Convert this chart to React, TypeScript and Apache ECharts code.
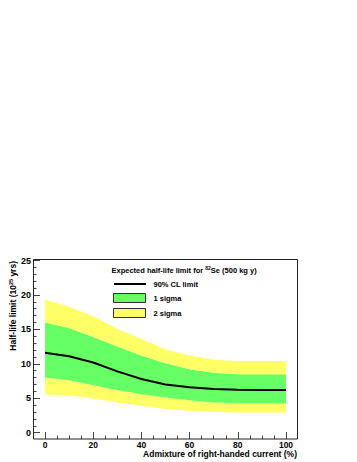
import React, { useEffect, useRef } from "react";
import * as echarts from "echarts";

const admixture = [0, 10, 20, 30, 40, 50, 60, 70, 80, 90, 100];
const limit90 = [11.6, 11.1, 10.2, 8.9, 7.8, 7.0, 6.6, 6.35, 6.25, 6.2, 6.2];
const sigma1Upper = [16.0, 15.2, 13.9, 12.5, 11.2, 10.1, 9.2, 8.7, 8.5, 8.5, 8.5];
const sigma1Lower = [8.0, 7.6, 6.9, 6.2, 5.6, 5.1, 4.7, 4.4, 4.3, 4.3, 4.3];
const sigma2Upper = [19.3, 18.3, 16.9, 15.1, 13.6, 12.1, 11.2, 10.6, 10.4, 10.4, 10.4];
const sigma2Lower = [5.6, 5.4, 4.95, 4.4, 3.9, 3.45, 3.2, 3.0, 2.95, 2.95, 2.95];
const xTicks = [0, 20, 40, 60, 80, 100];
const yTicks = [0, 5, 10, 15, 20, 25];

const FONT = "'Liberation Sans', Arial, sans-serif";
const GREEN = "#66ff66";
const YELLOW = "#ffff66";
const TICK = { color: "#444", width: 1 };

export default function App() {
  const ref = useRef<HTMLDivElement>(null);
  useEffect(() => {
    if (!ref.current) return;
    const chart = echarts.init(ref.current, undefined, { renderer: "svg" });
    const diff = (a: number[], b: number[]) => a.map((v, i) => +(v - b[i]).toFixed(3));
    const band = (name: string, data: number[], color: string | null) => ({
      name,
      type: "line",
      xAxisIndex: 0,
      yAxisIndex: 0,
      stack: "bands",
      data,
      symbol: "none",
      lineStyle: { width: 0, opacity: 0 },
      areaStyle: color ? { color, opacity: 1 } : { opacity: 0 },
      silent: true,
      z: 1,
    });
    const hiddenValue = (gridIndex: number, min: number, max: number) => ({
      type: "value",
      gridIndex,
      min,
      max,
      show: false,
    });
    chart.setOption({
      animation: false,
      grid: [
        { left: 45, right: 71, top: 260.5, bottom: 29.3 },
        { left: 33, right: 71, top: 260.5, bottom: 29.3 },
        { left: 45, right: 71, top: 260.5, bottom: 23 },
      ],
      xAxis: [
        {
          type: "category",
          gridIndex: 0,
          data: admixture.map(String),
          boundaryGap: false,
          show: false,
        },
        hiddenValue(1, 0, 100),
        {
          type: "value",
          gridIndex: 2,
          min: 0,
          max: 100,
          interval: 20,
          axisLine: { show: false },
          axisTick: { show: true, inside: true, length: 7, lineStyle: TICK },
          minorTick: { show: true, splitNumber: 4, length: 3.5, lineStyle: TICK },
          splitLine: { show: false },
          axisLabel: {
            margin: 1.5,
            fontFamily: FONT,
            fontSize: 8.5,
            fontWeight: "bold",
            color: "#000",
            formatter: (v: number) => (xTicks.includes(v) ? String(v) : ""),
          },
        },
      ],
      yAxis: [
        hiddenValue(0, 0, 25),
        {
          type: "value",
          gridIndex: 1,
          min: 0,
          max: 25,
          interval: 5,
          axisLine: { show: false },
          axisTick: { show: true, inside: true, length: 7, lineStyle: TICK },
          minorTick: { show: true, splitNumber: 5, length: 3.5, lineStyle: TICK },
          splitLine: { show: false },
          axisLabel: {
            margin: 2,
            fontFamily: FONT,
            fontSize: 9,
            fontWeight: "bold",
            color: "#000",
            formatter: (v: number) => (yTicks.includes(v) ? String(v) : ""),
          },
        },
        hiddenValue(2, 0, 25),
      ],
      series: [
        band("base", sigma2Lower, null),
        band("2 sigma low", diff(sigma1Lower, sigma2Lower), YELLOW),
        band("1 sigma", diff(sigma1Upper, sigma1Lower), GREEN),
        band("2 sigma high", diff(sigma2Upper, sigma1Upper), YELLOW),
        {
          name: "90% CL limit",
          type: "line",
          xAxisIndex: 0,
          yAxisIndex: 0,
          data: limit90,
          symbol: "none",
          lineStyle: { color: "#000", width: 2 },
          z: 5,
        },
      ],
      graphic: [
        {
          type: "rect",
          z: 100,
          shape: { x: 33.5, y: 259.5, width: 264, height: 179.5 },
          style: { fill: "none", stroke: "#222", lineWidth: 1 },
        },
        {
          type: "text",
          z: 100,
          x: 297,
          y: 454,
          style: {
            text: "Admixture of right-handed current (%)",
            font: `bold 8.5px ${FONT}`,
            fill: "#000",
            align: "right",
            verticalAlign: "middle",
          },
        },
        {
          type: "text",
          z: 100,
          x: 13,
          y: 261,
          rotation: Math.PI / 2,
          style: {
            text: "Half-life limit (10{sup|25} yrs)",
            font: `bold 8.5px ${FONT}`,
            fill: "#000",
            align: "right",
            verticalAlign: "middle",
            rich: {
              sup: { fontSize: 5.5, fontWeight: "bold", fontFamily: FONT, fill: "#000", padding: [0, 0, 5, 0] },
            },
          },
        },
        {
          type: "text",
          z: 100,
          x: 111.5,
          y: 270,
          style: {
            text: "Expected half-life limit for {sup|82}Se (500 kg y)",
            font: `bold 7.5px ${FONT}`,
            fill: "#000",
            align: "left",
            verticalAlign: "middle",
            rich: {
              sup: { fontSize: 5, fontWeight: "bold", fontFamily: FONT, fill: "#000", padding: [0, 0, 4, 0] },
            },
          },
        },
        {
          type: "line",
          z: 100,
          shape: { x1: 114, y1: 284, x2: 146, y2: 284 },
          style: { stroke: "#000", lineWidth: 2 },
        },
        {
          type: "text",
          z: 100,
          x: 153.5,
          y: 284,
          style: { text: "90% CL limit", font: `bold 7.5px ${FONT}`, fill: "#000", verticalAlign: "middle" },
        },
        {
          type: "rect",
          z: 100,
          shape: { x: 113.5, y: 293.5, width: 32, height: 9 },
          style: { fill: GREEN, stroke: "#333", lineWidth: 1 },
        },
        {
          type: "text",
          z: 100,
          x: 153.5,
          y: 298,
          style: { text: "1 sigma", font: `bold 7.5px ${FONT}`, fill: "#000", verticalAlign: "middle" },
        },
        {
          type: "rect",
          z: 100,
          shape: { x: 113.5, y: 308.5, width: 32, height: 9 },
          style: { fill: YELLOW, stroke: "#333", lineWidth: 1 },
        },
        {
          type: "text",
          z: 100,
          x: 153.5,
          y: 313,
          style: { text: "2 sigma", font: `bold 7.5px ${FONT}`, fill: "#000", verticalAlign: "middle" },
        },
      ],
    });
    return () => chart.dispose();
  }, []);
  return (
    <div
      ref={ref}
      style={{ position: "fixed", left: 0, top: 0, width: 357, height: 462, background: "#fff" }}
    />
  );
}
